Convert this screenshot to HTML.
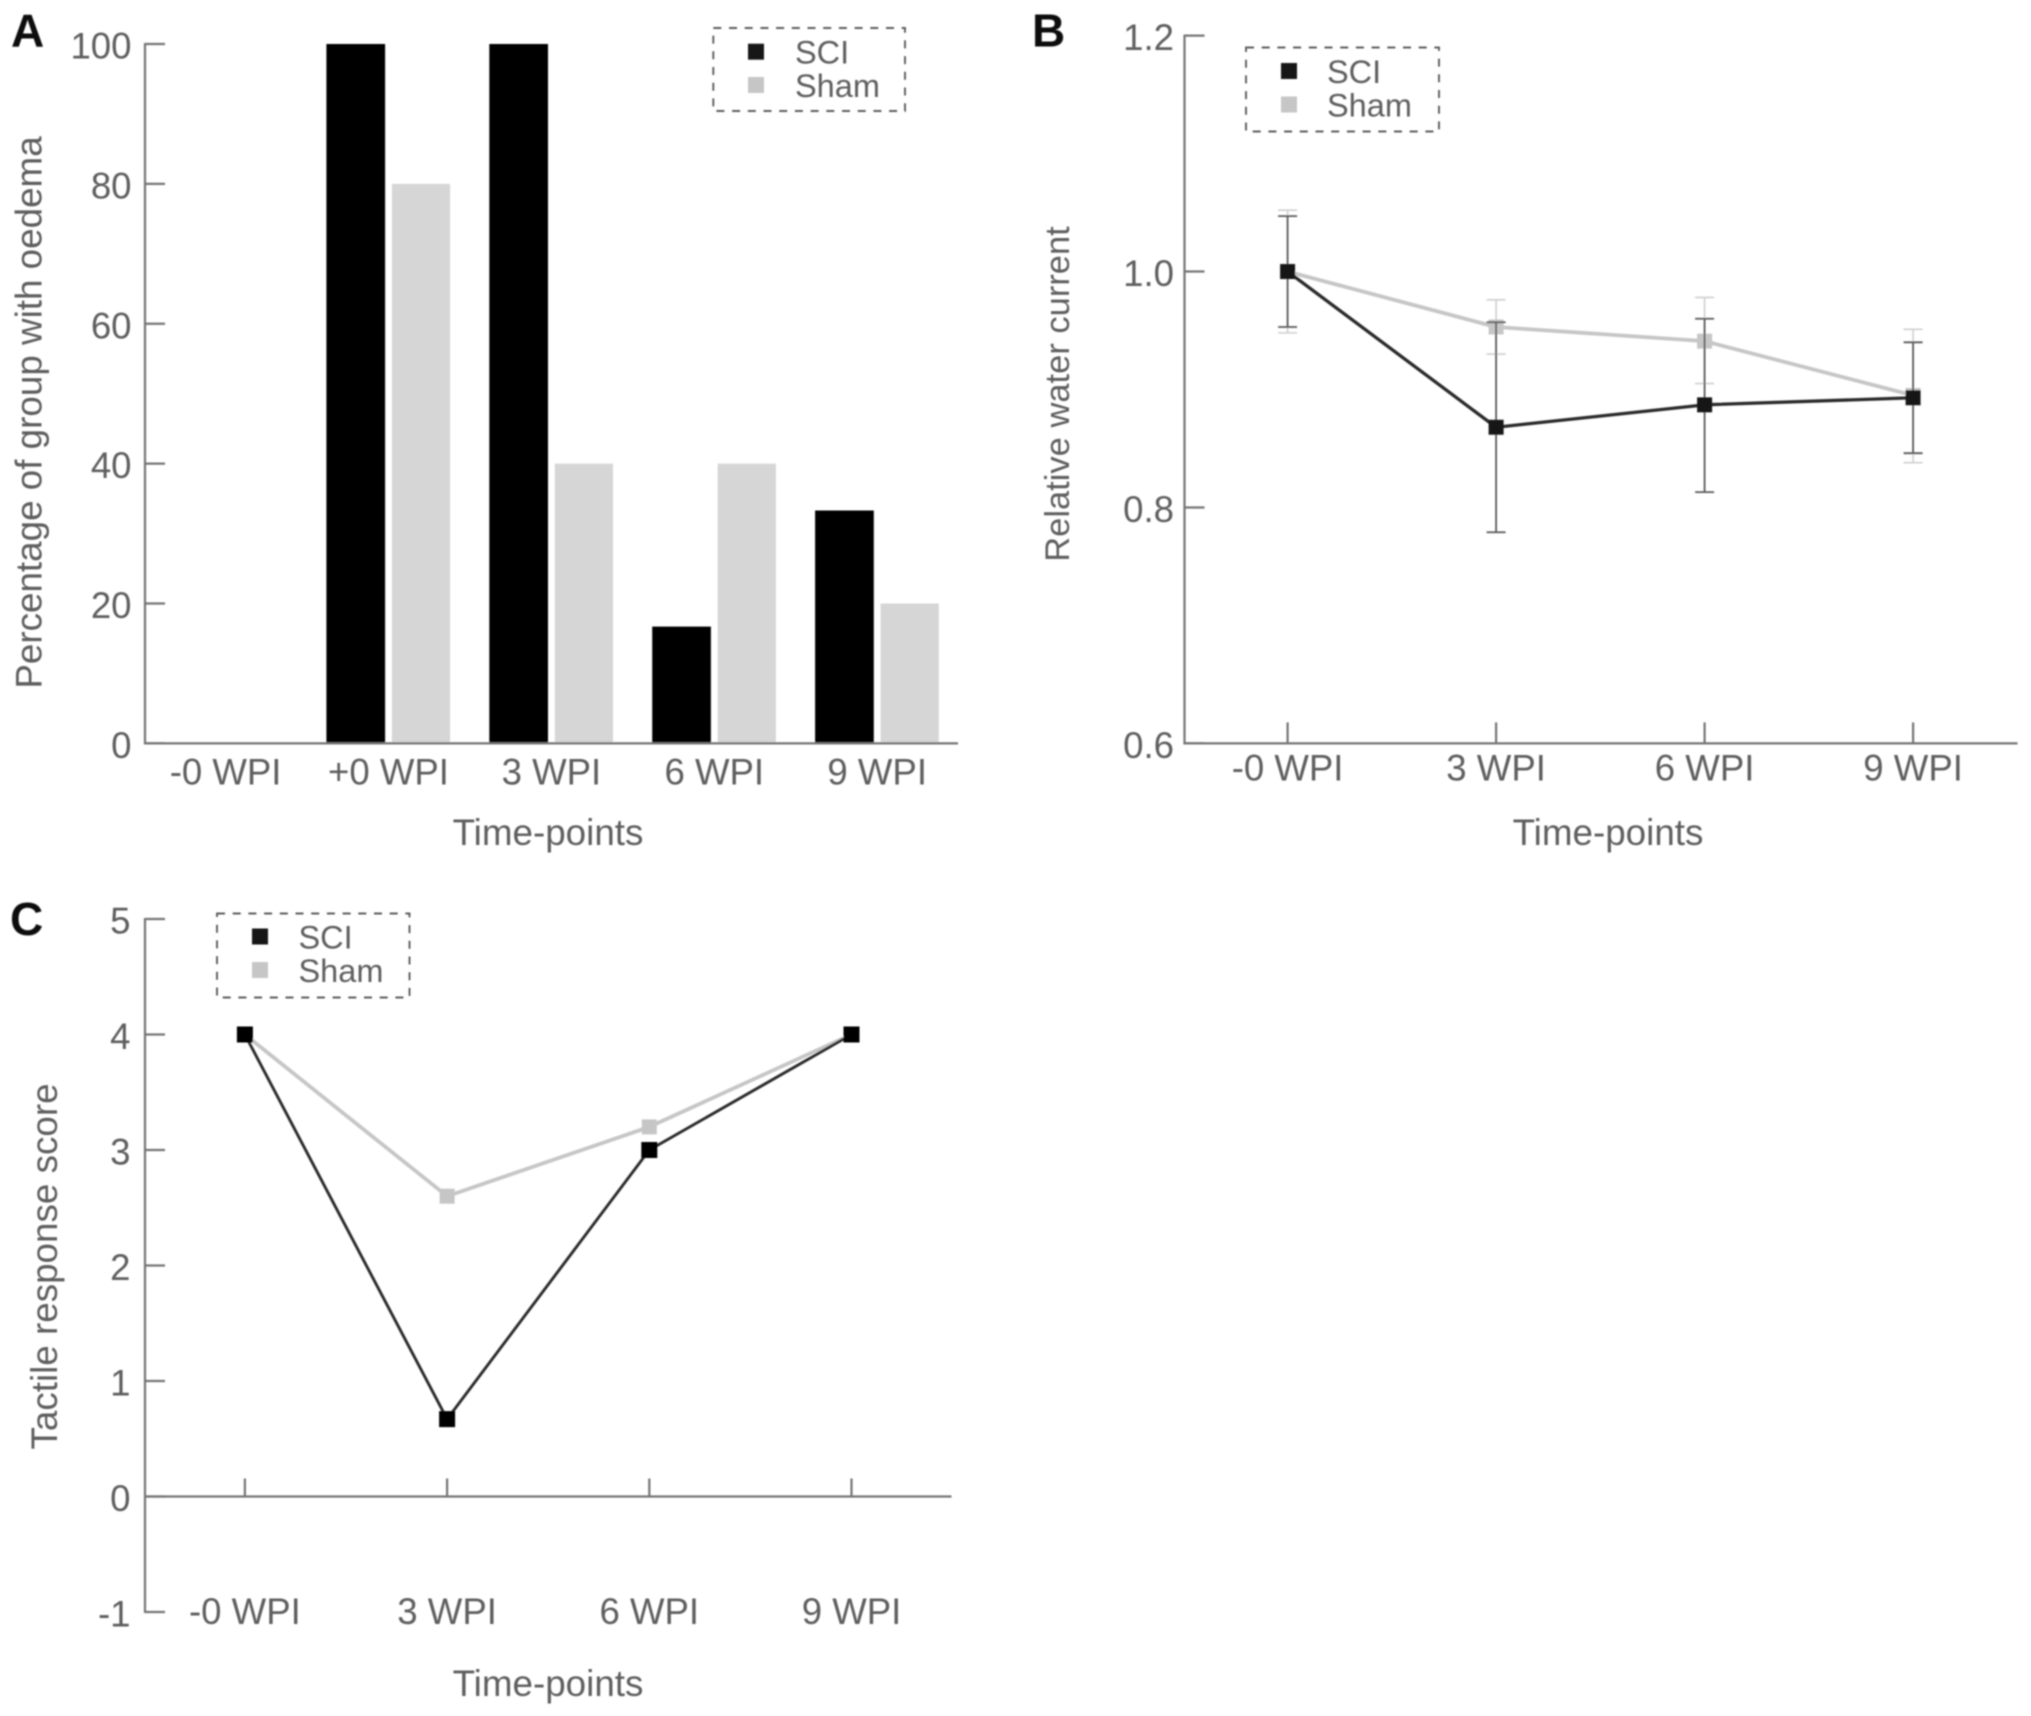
<!DOCTYPE html>
<html lang="en">
<head>
<meta charset="utf-8">
<title>Oedema, water current and tactile response charts</title>
<style>
html,body{margin:0;padding:0;background:#fff;width:2031px;height:1716px;overflow:hidden}
svg{display:block}
text{font-family:"Liberation Sans",Arial,sans-serif;fill:#5e5e5e}
.tick{font-size:36.6px}
.title{font-size:36.8px}
.title-b{font-size:34.5px}
.leg{font-size:32.5px}
.panel{font-size:46px;font-weight:bold;fill:#111}
</style>
</head>
<body>
<svg id="figure" xmlns="http://www.w3.org/2000/svg" width="2031" height="1716" viewBox="0 0 2031 1716">
  <defs><filter id="soft" x="-2%" y="-2%" width="104%" height="104%"><feGaussianBlur stdDeviation="0.75"/></filter></defs>
  <rect width="2031" height="1716" fill="#fff"/>
  <g id="root" filter="url(#soft)">
    <text class="panel" x="11" y="46.5">A</text>
    <text class="panel" x="1032" y="46.5">B</text>
    <text class="panel" x="10" y="935">C</text>
    <text class="title" x="548" y="845" text-anchor="middle">Time-points</text>
    <text class="title" text-anchor="middle" transform="translate(41.5 412.5) rotate(-90)">Percentage of group with oedema</text>
    <text class="title" x="1608" y="845" text-anchor="middle">Time-points</text>
    <text class="title-b" text-anchor="middle" transform="translate(1069 394) rotate(-90)">Relative water current</text>
    <text class="title" x="548" y="1696" text-anchor="middle">Time-points</text>
    <text class="title" text-anchor="middle" transform="translate(57 1266.5) rotate(-90)">Tactile response score</text>
  </g>
</svg>
<script>
// Panel A data
const categoriesA = ['-0 WPI', '+0 WPI', '3 WPI', '6 WPI', '9 WPI'];
const sciPercentA = [0, 100, 100, 16.7, 33.3];
const shamPercentA = [0, 80, 40, 40, 20];
const yTicksA = [0, 20, 40, 60, 80, 100];

// Panel B data
const categoriesB = ['-0 WPI', '3 WPI', '6 WPI', '9 WPI'];
const sciMeanB = [1.0, 0.868, 0.887, 0.893];
const sciUpperB = [1.047, 0.957, 0.96, 0.94];
const sciLowerB = [0.953, 0.779, 0.813, 0.846];
const shamMeanB = [1.0, 0.953, 0.941, 0.895];
const shamUpperB = [1.052, 0.976, 0.978, 0.951];
const shamLowerB = [0.948, 0.93, 0.905, 0.838];
const yTicksB = [0.6, 0.8, 1.0, 1.2];

// Panel C data
const categoriesC = ['-0 WPI', '3 WPI', '6 WPI', '9 WPI'];
const sciScoreC = [4, 0.67, 3, 4];
const shamScoreC = [4, 2.6, 3.2, 4];
const yTicksC = [-1, 0, 1, 2, 3, 4, 5];

const NS = 'http://www.w3.org/2000/svg';
const root = document.getElementById('root');
const AXIS = '#747474', AXIS_W = 2.2, BLACK = '#141414', GREY = '#c6c6c6';

function linear(d0, d1, p0, p1) {
  return function (v) { return p0 + (v - d0) * (p1 - p0) / (d1 - d0); };
}
function addLine(x1, y1, x2, y2, color, width, name) {
  const el = document.createElementNS(NS, 'line');
  el.setAttribute('x1', x1);
  el.setAttribute('y1', y1);
  el.setAttribute('x2', x2);
  el.setAttribute('y2', y2);
  el.setAttribute('stroke', color);
  el.setAttribute('stroke-width', width);
  
  
  root.appendChild(el);
}
function addRect(x, y, w, h, fill, name) {
  const el = document.createElementNS(NS, 'rect');
  el.setAttribute('x', x);
  el.setAttribute('y', y);
  el.setAttribute('width', w);
  el.setAttribute('height', h);
  el.setAttribute('fill', fill);
  
  
  root.appendChild(el);
}
function addText(x, y, str, cls, anchor, name) {
  const el = document.createElementNS(NS, 'text');
  el.setAttribute('x', x);
  el.setAttribute('y', y);
  el.setAttribute('class', cls);
  el.setAttribute('text-anchor', anchor);
  el.textContent = str;
  
  
  root.appendChild(el);
}
function addPolyline(xs, ys, color, width, name) {
  const el = document.createElementNS(NS, 'polyline');
  el.setAttribute('points', xs.map(function (x, i) { return x + ',' + ys[i]; }).join(' '));
  el.setAttribute('fill', 'none');
  el.setAttribute('stroke', color);
  el.setAttribute('stroke-width', width);
  el.setAttribute('stroke-linejoin', 'round');
  
  
  root.appendChild(el);
}
function addLegend(p, x, y, w, h, mx, tx, y1, y2) {
  const box = document.createElementNS(NS, 'rect');
  box.setAttribute('x', x);
  box.setAttribute('y', y);
  box.setAttribute('width', w);
  box.setAttribute('height', h);
  box.setAttribute('fill', 'none');
  box.setAttribute('stroke', '#5c5c5c');
  box.setAttribute('stroke-width', 1.9);
  box.setAttribute('stroke-dasharray', '8 7.7');
  
  
  root.appendChild(box);
  addRect(mx - 8, y1 - 8, 16, 16, BLACK, p + '-legend-marker-sci');
  addRect(mx - 8, y2 - 8, 16, 16, GREY, p + '-legend-marker-sham');
  addText(tx, y1 + 12, 'SCI', 'leg', 'start', p + '-legend-label-sci');
  addText(tx, y2 + 12, 'Sham', 'leg', 'start', p + '-legend-label-sham');
}
function addYAxis(p, ticks, fmt, xAxis, yScale, labelRight) {
  const top = yScale(Math.max.apply(null, ticks));
  const bottom = yScale(Math.min.apply(null, ticks));
  addLine(xAxis, top - 1, xAxis, bottom + 1, AXIS, AXIS_W, p + '-y-axis-line');
  ticks.forEach(function (t) {
    addLine(xAxis, yScale(t), xAxis + 20, yScale(t), AXIS, AXIS_W, p + '-y-tick-' + fmt(t));
    addText(labelRight, yScale(t) + 14.5, fmt(t), 'tick', 'end', p + '-y-tick-label-' + fmt(t));
  });
}
function addMarkers(p, series, xs, ys, color, size) {
  xs.forEach(function (x, i) {
    addRect(x - size / 2, ys[i] - size / 2, size, size, color, p + '-marker-' + series + '-' + i);
  });
}

/* ---------- Panel A: grouped bars ---------- */
(function () {
  const y = linear(0, 100, 743.4, 44);
  const x = function (i) { return 225.6 + 162.9 * i; };
  addYAxis('a', yTicksA, String, 145, y, 131.5);
  categoriesA.forEach(function (c, i) {
    addRect(x(i) - 62.1, y(sciPercentA[i]), 58.7, y(0) - y(sciPercentA[i]), '#000', 'a-bar-sci-' + i);
    addRect(x(i) + 3.4, y(shamPercentA[i]), 58.2, y(0) - y(shamPercentA[i]), '#d6d6d6', 'a-bar-sham-' + i);
    addText(x(i), 784.5, c, 'tick', 'middle', 'a-x-tick-label-' + i);
  });
  addLine(144, y(0), 958, y(0), AXIS, AXIS_W, 'a-x-axis-line');
  addLegend('a', 713.3, 28, 191.7, 83, 756, 795, 51.7, 85);
})();

/* ---------- Panel B: lines with error bars ---------- */
(function () {
  const y = linear(0.6, 1.2, 743.4, 35.6);
  const x = function (i) { return 1287.6 + 208.5 * i; };
  const xs = categoriesB.map(function (c, i) { return x(i); });
  addYAxis('b', yTicksB, function (t) { return t.toFixed(1); }, 1184.5, y, 1174);
  addLine(1183.5, y(0.6), 2017.5, y(0.6), AXIS, AXIS_W, 'b-x-axis-line');
  categoriesB.forEach(function (c, i) {
    addLine(x(i), y(0.6), x(i), y(0.6) - 21, AXIS, AXIS_W, 'b-x-tick-' + i);
    addText(x(i), 780.5, c, 'tick', 'middle', 'b-x-tick-label-' + i);
  });
  function errorBars(series, upper, lower, color, width) {
    xs.forEach(function (px, i) {
      addLine(px, y(upper[i]), px, y(lower[i]), color, width, 'b-error-bar-' + series + '-' + i);
      addLine(px - 9.5, y(upper[i]), px + 9.5, y(upper[i]), color, width, 'b-error-cap-upper-' + series + '-' + i);
      addLine(px - 9.5, y(lower[i]), px + 9.5, y(lower[i]), color, width, 'b-error-cap-lower-' + series + '-' + i);
    });
  }
  errorBars('sham', shamUpperB, shamLowerB, '#cfcfcf', 1.6);
  addPolyline(xs, shamMeanB.map(y), GREY, 3.8, 'b-line-sham');
  addMarkers('b', 'sham', xs, shamMeanB.map(y), GREY, 15);
  errorBars('sci', sciUpperB, sciLowerB, '#5a5a5a', 1.8);
  addPolyline(xs, sciMeanB.map(y), '#2a2a2a', 3.3, 'b-line-sci');
  addMarkers('b', 'sci', xs, sciMeanB.map(y), BLACK, 15);
  addLegend('b', 1246, 47.5, 193, 84, 1289, 1327, 71, 104.5);
})();

/* ---------- Panel C: lines ---------- */
(function () {
  const y = linear(-1, 5, 1612, 919);
  const x = function (i) { return 244.9 + 202.2 * i; };
  const xs = categoriesC.map(function (c, i) { return x(i); });
  addYAxis('c', yTicksC, String, 145, y, 130.5);
  addLine(144, y(0), 951.5, y(0), AXIS, AXIS_W, 'c-x-axis-line');
  categoriesC.forEach(function (c, i) {
    addLine(x(i), y(0), x(i), y(0) - 18, AXIS, AXIS_W, 'c-x-tick-' + i);
    addText(x(i), 1624, c, 'tick', 'middle', 'c-x-tick-label-' + i);
  });
  addPolyline(xs, shamScoreC.map(y), GREY, 3.8, 'c-line-sham');
  addMarkers('c', 'sham', xs, shamScoreC.map(y), GREY, 15);
  addPolyline(xs, sciScoreC.map(y), '#2a2a2a', 2.9, 'c-line-sci');
  addMarkers('c', 'sci', xs, sciScoreC.map(y), '#000', 16);
  addLegend('c', 217, 913.5, 192.5, 84, 260, 298.5, 936.5, 970);
})();
</script>
</body>
</html>
